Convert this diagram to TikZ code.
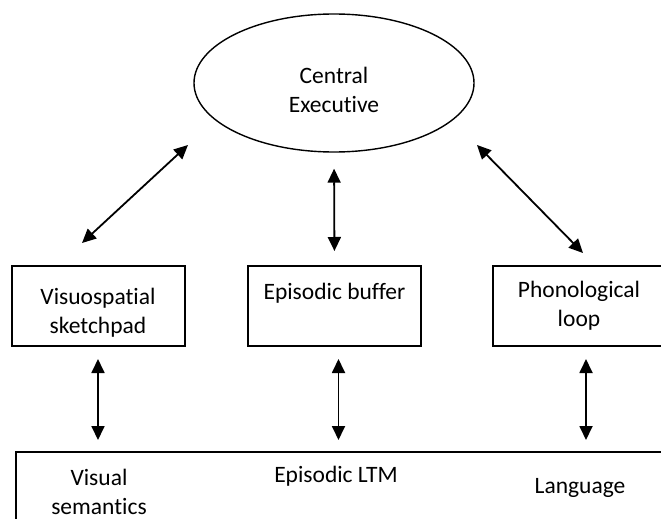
\documentclass[tikz,border=0pt]{standalone}
\usepackage{fontspec}
\setmainfont{Carlito}[Ligatures=NoCommon]
\usepackage{tikz}
\usetikzlibrary{positioning,calc,arrows.meta,shapes.geometric}

\tikzset{
  comp/.style={draw,line width=2pt,minimum width=173pt,minimum height=80pt,inner sep=0pt,align=center},
  dblarrow/.style={line width=1.8pt,{Triangle[length=14pt,width=13pt]}-{Triangle[length=14pt,width=13pt]}},
}
\newcommand{\lowerline}{\rule{0pt}{30pt}}

\begin{document}
\begin{tikzpicture}[x=1pt,y=-1pt,font=\fontsize{23.5}{29}\selectfont]
	\useasboundingbox (0,0) rectangle (661,519);
	
	% central executive
	\node[draw,ellipse,line width=1.4pt,minimum width=280pt,minimum height=138pt,inner sep=0pt,align=center] (ce) at (334,83) {\lowerline Central\\Executive};
	
	% slave systems
	\node[comp] (vs) at (98,306) {\lowerline Visuospatial\\sketchpad};
	\node[comp] (eb) at (334.5,306) {Episodic buffer\\\mbox{}};
	\node[comp] (pl) at (579,306) {Phonological\\loop};
	
	% long-term memory (runs off the page)
	\node[draw,line width=2pt,anchor=north west,minimum width=700pt,minimum height=120pt] (ltm) at (15,451) {};
	\node[align=center] (vsem) at (99,492) {Visual\\semantics};
	\node (eltm) at (336,476) {Episodic LTM};
	\node (lang) at (580,488) {Language};
	
	% arrows to the central executive
	\coordinate (ceL) at (188,145);
	\coordinate (vsT) at (82,243);
	\coordinate (ceR) at (477,145);
	\coordinate (plT) at (583,253);
	\draw[dblarrow] (ceL) -- (vsT);
	\draw[dblarrow] (ceR) -- (plT);
	\draw[dblarrow,shorten <=16pt,shorten >=14pt] (ce.south) -- (eb.north);
	
	% arrows down to LTM
	\foreach \m/\dx in {vs/0,eb/4,pl/7} {
		\draw[dblarrow,shorten <=12pt,shorten >=11pt] ([xshift=\dx pt]\m.south) -- ([xshift=\dx pt]\m.south |- ltm.north);
	}
\end{tikzpicture}
\end{document}
